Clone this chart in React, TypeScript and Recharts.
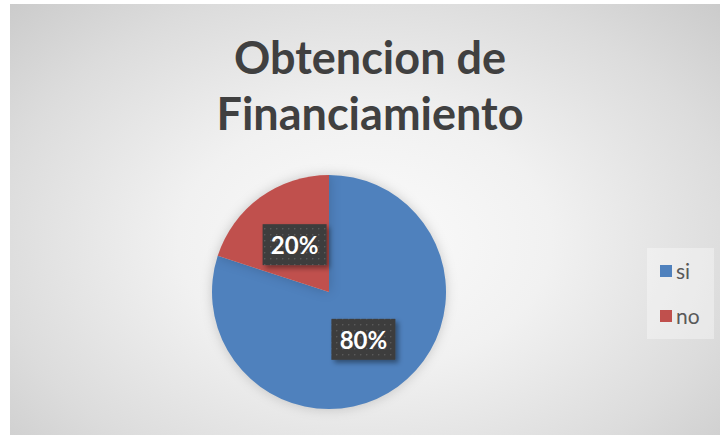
import React from "react";
import { PieChart, Pie, Cell, Legend } from "recharts";

const categories = ["si", "no"];
const values = [80, 20];
const colors = ["#4F81BD", "#C0504D"];
const titleLines = ["Obtencion de", "Financiamiento"];

const data = categories.map((name, i) => ({ name, value: values[i] }));

const RAD = Math.PI / 180;

const renderLabel = (props: any) => {
  const { cx, cy, midAngle, outerRadius, percent, index } = props;
  const r = outerRadius * 0.5;
  const x = cx + r * Math.cos(-midAngle * RAD);
  const y = cy + r * Math.sin(-midAngle * RAD);
  const w = 64;
  const h = 41;
  const pid = `dots${index}`;
  const fid = `shadow${index}`;
  return (
    <g key={`lbl-${index}`}>
      <defs>
        <pattern id={pid} width="6" height="6" patternUnits="userSpaceOnUse">
          <rect width="6" height="6" fill="#3c3c3c" />
          <rect x="2" y="2" width="1.4" height="1.4" fill="#5a5a5a" />
        </pattern>
        <filter id={fid} x="-20%" y="-20%" width="150%" height="160%">
          <feDropShadow dx="3" dy="3" stdDeviation="2.5" floodColor="#000" floodOpacity="0.4" />
        </filter>
      </defs>
      <rect x={x - w / 2} y={y - h / 2} width={w} height={h} fill={`url(#${pid})`} filter={`url(#${fid})`} />
      <text
        x={x}
        y={y}
        fill="#ffffff"
        textAnchor="middle"
        dominantBaseline="central"
        fontFamily="Lato, 'Open Sans', sans-serif"
        fontWeight={700}
        fontSize={24}
      >
        {`${Math.round(percent * 100)}%`}
      </text>
    </g>
  );
};

const renderLegend = () => (
  <div
    style={{
      background: "rgba(255,255,255,0.35)",
      width: 67,
      height: 91,
      boxSizing: "border-box",
      paddingLeft: 13,
      paddingTop: 0,
      fontFamily: "Lato, 'Open Sans', sans-serif",
      fontSize: 21,
      color: "#595959",
    }}
  >
    {categories.map((c, i) => (
      <div key={c} style={{ display: "flex", alignItems: "center", height: 45, marginTop: i === 0 ? 1 : 0 }}>
        <span style={{ display: "inline-block", width: 12, height: 12, background: colors[i], marginRight: 4 }} />
        <span>{c}</span>
      </div>
    ))}
  </div>
);

export default function App() {
  return (
    <div
      style={{
        position: "absolute",
        left: 10,
        top: 4,
        width: 710,
        height: 431,
        background:
          "radial-gradient(ellipse 75% 85% at 50% 55%, #fbfbfb 0%, #f1f1f1 35%, #dcdcdc 70%, #c6c6c6 100%)",
        overflow: "hidden",
      }}
    >
      <div
        style={{
          position: "absolute",
          left: 0,
          width: 720,
          top: 25,
          textAlign: "center",
          fontFamily: "Lato, 'Open Sans', sans-serif",
          fontWeight: 700,
          fontSize: 45,
          lineHeight: "56px",
          color: "#404040",
        }}
      >
        {titleLines.map((t) => (
          <div key={t}>{t}</div>
        ))}
      </div>
      <div style={{ position: "absolute", left: 0, top: 0 }}>
        <PieChart width={710} height={431} margin={{ top: 0, right: 0, bottom: 0, left: 0 }}>
          <Pie
            data={data}
            dataKey="value"
            nameKey="name"
            cx={319}
            cy={288}
            outerRadius={117}
            startAngle={90}
            endAngle={-270}
            stroke="none"
            label={renderLabel}
            labelLine={false}
            isAnimationActive={false}
            style={{ filter: "drop-shadow(0px 0px 6px rgba(0,0,0,0.18))" }}
          >
            {data.map((d, i) => (
              <Cell key={d.name} fill={colors[i]} />
            ))}
          </Pie>
          <Legend
            content={renderLegend}
            wrapperStyle={{ position: "absolute", left: 637, top: 243, width: 67, height: 91 }}
          />
        </PieChart>
      </div>
    </div>
  );
}
